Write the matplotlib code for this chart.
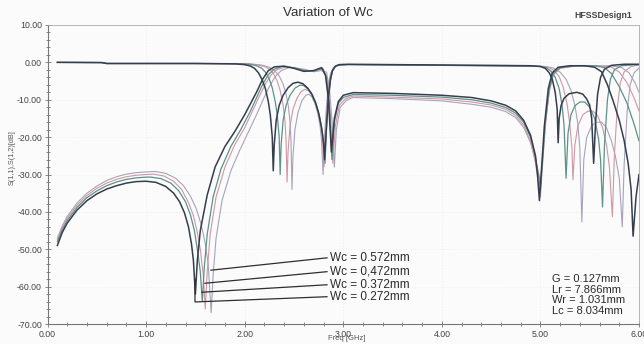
import matplotlib
matplotlib.use("Agg")
import matplotlib.pyplot as plt
from matplotlib.ticker import MultipleLocator, FormatStrFormatter

plt.rcParams['font.family'] = ['Liberation Sans', 'DejaVu Sans']

# Swept coupling-line width
wc_labels = ["Wc = 0.572mm", "Wc = 0,472mm", "Wc = 0.372mm", "Wc = 0.272mm"]
fixed_params = ["G = 0.127mm", "Lr = 7.866mm", "Wr = 1.031mm", "Lc = 8.034mm"]

# S(1,1) in dB, (freq GHz, dB) pairs
s11_272 = [(0.10, -49.0), (0.15, -45.5), (0.20, -43.0), (0.30, -39.5), (0.40, -37.0), (0.50, -35.2),
           (0.60, -33.9), (0.70, -33.0), (0.80, -32.3), (0.90, -31.9), (1.00, -31.8), (1.10, -32.1),
           (1.20, -33.2), (1.28, -35.0), (1.34, -37.3), (1.39, -40.3), (1.43, -44.0), (1.46, -48.5),
           (1.48, -53.0), (1.50, -62.0), (1.52, -53.0), (1.55, -45.0), (1.62, -35.5), (1.70, -28.0),
           (1.80, -22.5), (1.90, -18.5), (2.00, -14.0), (2.06, -11.0), (2.12, -8.0), (2.18, -4.6),
           (2.24, -2.2), (2.30, -1.2), (2.40, -1.0), (2.50, -1.6), (2.60, -2.4), (2.70, -2.2),
           (2.78, -1.4), (2.82, -3.5), (2.85, -10.0), (2.88, -24.0), (2.91, -15.0), (2.95, -10.5),
           (3.00, -8.8), (3.10, -8.1), (3.50, -8.3), (4.00, -8.8), (4.30, -9.4), (4.50, -10.3),
           (4.65, -11.5), (4.75, -13.0), (4.83, -15.5), (4.90, -19.5), (4.95, -25.0), (4.97, -30.0),
           (4.99, -37.0), (5.01, -29.0), (5.04, -17.0), (5.08, -7.0), (5.12, -2.8), (5.18, -1.3),
           (5.30, -0.9), (5.45, -0.9), (5.55, -1.3), (5.62, -2.5), (5.68, -6.0), (5.74, -10.5),
           (5.80, -15.5), (5.85, -21.0), (5.89, -27.0), (5.92, -34.0), (5.94, -46.5), (5.97, -36.0),
           (6.00, -30.0)]
s11_372 = [(0.10, -48.0), (0.15, -44.8), (0.20, -42.3), (0.30, -38.8), (0.40, -36.2), (0.50, -34.4),
           (0.60, -33.0), (0.70, -32.0), (0.80, -31.3), (0.90, -30.9), (1.00, -30.7), (1.05, -30.7),
           (1.15, -31.1), (1.25, -32.3), (1.33, -34.3), (1.40, -37.3), (1.45, -40.8), (1.49, -45.0),
           (1.52, -50.0), (1.55, -56.0), (1.57, -64.0), (1.59, -55.0), (1.62, -46.0), (1.68, -36.0),
           (1.76, -28.5), (1.86, -22.5), (1.96, -18.0), (2.05, -13.5), (2.12, -9.5), (2.18, -6.0),
           (2.24, -3.3), (2.30, -1.8), (2.38, -1.1), (2.50, -1.4), (2.60, -2.2), (2.70, -2.3),
           (2.79, -1.6), (2.83, -4.0), (2.86, -12.0), (2.885, -26.0), (2.91, -16.0), (2.95, -11.0),
           (3.00, -9.4), (3.10, -8.6), (3.50, -8.8), (4.00, -9.3), (4.30, -10.0), (4.50, -10.9),
           (4.65, -12.1), (4.75, -13.6), (4.83, -16.0), (4.90, -20.0), (4.95, -25.5), (4.98, -30.0),
           (5.00, -34.0), (5.02, -27.0), (5.05, -16.0), (5.09, -7.0), (5.13, -3.0), (5.20, -1.4),
           (5.35, -0.9), (5.55, -0.9), (5.65, -1.4), (5.72, -3.0), (5.80, -6.5), (5.88, -11.0),
           (5.95, -16.5), (6.00, -21.0)]
s11_472 = [(0.10, -47.5), (0.15, -44.2), (0.20, -41.7), (0.30, -38.2), (0.40, -35.6), (0.50, -33.7),
           (0.60, -32.3), (0.70, -31.3), (0.80, -30.6), (0.90, -30.2), (1.00, -30.0), (1.08, -29.9),
           (1.18, -30.4), (1.28, -31.8), (1.36, -34.0), (1.43, -37.5), (1.48, -41.0), (1.52, -45.5),
           (1.55, -50.0), (1.58, -57.0), (1.60, -66.0), (1.62, -56.0), (1.65, -46.0), (1.71, -36.0),
           (1.80, -28.0), (1.90, -22.0), (2.00, -17.5), (2.08, -13.0), (2.15, -9.0), (2.21, -5.8),
           (2.27, -3.3), (2.33, -1.9), (2.42, -1.2), (2.55, -1.6), (2.65, -2.4), (2.74, -2.0),
           (2.80, -1.8), (2.84, -5.0), (2.87, -14.0), (2.895, -27.0), (2.92, -17.0), (2.96, -11.5),
           (3.02, -9.8), (3.10, -9.0), (3.50, -9.3), (4.00, -9.8), (4.30, -10.6), (4.50, -11.4),
           (4.65, -12.6), (4.75, -14.2), (4.83, -16.8), (4.90, -21.0), (4.95, -27.0), (4.98, -32.0),
           (5.00, -36.0), (5.02, -28.0), (5.05, -17.0), (5.09, -7.5), (5.13, -3.2), (5.20, -1.5),
           (5.35, -1.0), (5.60, -0.9), (5.72, -1.3), (5.80, -2.6), (5.88, -5.5), (5.95, -9.5),
           (6.00, -13.0)]
s11_572 = [(0.10, -47.0), (0.15, -43.7), (0.20, -41.2), (0.30, -37.6), (0.40, -35.0), (0.50, -33.1),
           (0.60, -31.6), (0.70, -30.6), (0.80, -29.9), (0.90, -29.5), (1.00, -29.3), (1.10, -29.2),
           (1.20, -29.7), (1.30, -31.0), (1.38, -33.0), (1.45, -35.8), (1.51, -39.2), (1.56, -43.5),
           (1.60, -48.5), (1.63, -54.0), (1.66, -67.0), (1.68, -57.0), (1.71, -47.0), (1.77, -37.0),
           (1.86, -29.0), (1.95, -23.5), (2.04, -18.5), (2.12, -14.0), (2.19, -9.8), (2.25, -6.5),
           (2.31, -3.8), (2.37, -2.2), (2.45, -1.4), (2.60, -1.8), (2.70, -2.5), (2.78, -2.2),
           (2.83, -2.6), (2.86, -7.0), (2.89, -17.0), (2.91, -28.0), (2.93, -18.0), (2.97, -12.0),
           (3.03, -10.2), (3.10, -9.4), (3.50, -9.7), (4.00, -10.3), (4.30, -11.2), (4.50, -12.0),
           (4.65, -13.2), (4.75, -14.8), (4.83, -17.4), (4.90, -21.5), (4.95, -26.0), (4.98, -29.5),
           (5.00, -32.0), (5.02, -26.0), (5.05, -16.0), (5.09, -7.8), (5.13, -3.4), (5.20, -1.6),
           (5.35, -1.0), (5.70, -0.9), (5.82, -1.3), (5.90, -2.8), (5.96, -5.5), (6.00, -8.0)]

# S(1,2) in dB, (freq GHz, dB) pairs
s21_272 = [(0.10, 0.0), (0.55, -0.05), (0.60, -0.3), (1.50, -0.3), (1.90, -0.4), (2.00, -0.6),
           (2.06, -1.0), (2.10, -1.6), (2.14, -2.8), (2.18, -4.8), (2.21, -7.0), (2.24, -10.5),
           (2.26, -14.0), (2.28, -20.0), (2.29, -29.0), (2.30, -22.0), (2.32, -15.5), (2.35, -11.5),
           (2.39, -8.8), (2.44, -6.8), (2.49, -5.6), (2.54, -5.3), (2.59, -5.7), (2.64, -6.9),
           (2.68, -8.4), (2.72, -10.8), (2.75, -13.5), (2.78, -17.5), (2.80, -21.5), (2.81, -26.0),
           (2.83, -17.0), (2.85, -9.0), (2.87, -4.5), (2.89, -2.2), (2.92, -1.0), (2.96, -0.6),
           (3.05, -0.5), (3.50, -0.6), (4.00, -0.7), (4.50, -0.8), (4.90, -0.9), (5.00, -1.1),
           (5.05, -1.6), (5.09, -2.8), (5.12, -4.5), (5.15, -8.0), (5.17, -12.5), (5.18, -21.5),
           (5.19, -15.0), (5.21, -11.5), (5.24, -9.6), (5.29, -8.4), (5.37, -8.0), (5.43, -8.5),
           (5.47, -9.8), (5.50, -11.5), (5.52, -15.0), (5.54, -27.0), (5.56, -16.0), (5.58, -8.5),
           (5.61, -4.0), (5.65, -1.8), (5.72, -0.8), (5.85, -0.5), (6.00, -0.5)]
s21_372 = [(0.10, 0.0), (0.55, -0.05), (0.60, -0.3), (1.50, -0.3), (1.95, -0.35), (2.05, -0.5),
           (2.12, -0.9), (2.17, -1.5), (2.21, -2.6), (2.25, -4.5), (2.28, -6.8), (2.31, -10.5),
           (2.33, -14.0), (2.35, -20.0), (2.36, -30.0), (2.37, -22.0), (2.39, -15.5), (2.42, -11.5),
           (2.46, -8.8), (2.51, -6.9), (2.56, -6.1), (2.60, -6.2), (2.64, -7.1), (2.68, -8.6),
           (2.72, -11.0), (2.76, -14.5), (2.79, -19.0), (2.805, -23.0), (2.815, -27.0), (2.83, -18.0),
           (2.85, -10.0), (2.87, -5.0), (2.89, -2.4), (2.92, -1.1), (2.96, -0.7), (3.05, -0.6),
           (3.50, -0.7), (4.00, -0.8), (4.50, -0.9), (4.90, -1.0), (5.00, -1.1), (5.06, -1.4),
           (5.11, -2.4), (5.15, -4.0), (5.19, -7.0), (5.22, -11.5), (5.24, -17.0), (5.26, -31.0),
           (5.28, -19.0), (5.31, -14.0), (5.35, -11.6), (5.40, -10.6), (5.45, -10.6), (5.50, -12.0),
           (5.55, -15.0), (5.59, -20.5), (5.61, -26.0), (5.63, -38.7), (5.65, -22.0), (5.68, -10.0),
           (5.71, -4.5), (5.75, -2.0), (5.82, -0.9), (6.00, -0.6)]
s21_472 = [(0.10, 0.0), (0.55, -0.05), (0.60, -0.3), (1.50, -0.3), (2.00, -0.35), (2.12, -0.6),
           (2.20, -1.1), (2.25, -1.8), (2.29, -2.9), (2.33, -5.0), (2.36, -7.5), (2.39, -11.5),
           (2.41, -16.0), (2.42, -21.0), (2.43, -32.0), (2.44, -24.0), (2.46, -17.0), (2.49, -12.5),
           (2.53, -9.6), (2.57, -7.9), (2.61, -7.2), (2.65, -7.6), (2.69, -9.0), (2.72, -11.0),
           (2.75, -13.8), (2.775, -17.5), (2.79, -21.0), (2.805, -28.0), (2.82, -19.0), (2.84, -11.0),
           (2.86, -5.5), (2.88, -2.8), (2.91, -1.3), (2.95, -0.8), (3.05, -0.6), (4.00, -0.8),
           (4.90, -1.0), (5.00, -1.0), (5.08, -1.3), (5.14, -2.2), (5.19, -3.8), (5.23, -6.5),
           (5.27, -11.0), (5.30, -17.0), (5.32, -23.0), (5.33, -31.4), (5.35, -22.0), (5.38, -17.0),
           (5.43, -14.0), (5.48, -13.1), (5.53, -13.0), (5.58, -14.2), (5.63, -17.5), (5.67, -22.0),
           (5.70, -28.0), (5.73, -41.3), (5.75, -25.0), (5.78, -12.0), (5.81, -5.5), (5.85, -2.5),
           (5.92, -1.1), (6.00, -0.7)]
s21_572 = [(0.10, 0.0), (0.55, -0.05), (0.60, -0.3), (1.50, -0.3), (2.05, -0.4), (2.17, -0.7),
           (2.25, -1.3), (2.30, -2.1), (2.35, -3.6), (2.39, -5.8), (2.42, -8.5), (2.445, -12.0),
           (2.46, -16.0), (2.47, -21.0), (2.48, -34.0), (2.49, -25.0), (2.51, -18.0), (2.54, -13.5),
           (2.58, -10.3), (2.62, -8.8), (2.65, -8.5), (2.68, -9.2), (2.71, -10.8), (2.74, -13.5),
           (2.765, -17.0), (2.78, -21.0), (2.795, -30.0), (2.81, -20.0), (2.83, -11.5), (2.85, -6.0),
           (2.87, -3.0), (2.90, -1.4), (2.94, -0.8), (3.05, -0.6), (4.00, -0.8), (4.90, -1.0),
           (5.05, -1.1), (5.13, -1.5), (5.20, -2.6), (5.26, -4.5), (5.31, -7.5), (5.35, -11.5),
           (5.38, -16.5), (5.40, -23.0), (5.42, -42.7), (5.44, -26.0), (5.47, -20.0), (5.52, -17.0),
           (5.57, -16.0), (5.62, -16.0), (5.67, -17.5), (5.72, -21.0), (5.76, -25.0), (5.80, -31.0),
           (5.83, -44.0), (5.85, -27.0), (5.88, -13.0), (5.91, -6.0), (5.95, -2.8), (6.00, -1.5)]

# Leader lines: point on the curve near each reflection zero, then the label anchor
leader_start_f = [1.658, 1.597, 1.567, 1.496]
leader_start_db = [-55.6, -59.1, -61.5, -64.1]
leader_dip_db = [-55.6, -59.1, -61.5, -58.0]
label_f = [2.835, 2.835, 2.835, 2.835]
label_db = [-52.3, -56.0, -59.5, -62.7]

traces = [
    (s11_572, s21_572, '#a7a3bb', 0.8),
    (s11_472, s21_472, '#cf97a4', 0.8),
    (s11_372, s21_372, '#5d9189', 0.9),
    (s11_272, s21_272, '#363d4c', 1.1),
]

W, H = 644, 344
fig = plt.figure(figsize=(W / 100, H / 100), dpi=100)
fig.patch.set_facecolor('#fbfbfb')
ax = fig.add_axes([47.5 / W, 1 - 324 / H, (639 - 47.5) / W, (324 - 25) / H])
ax.set_facecolor('#fbfbfb')

for s11, s21, color, lw in traces:
    for curve in (s11, s21):
        f = [p[0] for p in curve]
        d = [p[1] for p in curve]
        ax.plot(f, d, color=color, lw=lw, solid_joinstyle='round', zorder=3 if lw > 1 else 2)

for sf, sd, dd, lf, ld, txt in zip(leader_start_f, leader_start_db, leader_dip_db,
                                   label_f, label_db, wc_labels):
    ax.plot([sf, sf, lf], [dd, sd, ld], color='#2e2e2e', lw=0.9, zorder=4)
    ax.text(lf + 0.03, ld, txt, fontsize=8.5, color='#2a2a2a', va='center', ha='left', zorder=5)

param_db = [-57.9, -60.8, -63.7, -66.6]
for txt, yv in zip(fixed_params, param_db):
    ax.text(5.12, yv, txt, fontsize=8.0, color='#2a2a2a', va='center', ha='left')

ax.set_xlim(0, 6)
ax.set_ylim(-70, 10)
ax.xaxis.set_major_locator(MultipleLocator(1))
ax.xaxis.set_minor_locator(MultipleLocator(0.2))
ax.yaxis.set_major_locator(MultipleLocator(10))
ax.yaxis.set_minor_locator(MultipleLocator(2))
ax.xaxis.set_major_formatter(FormatStrFormatter('%.2f'))
ax.yaxis.set_major_formatter(FormatStrFormatter('%.2f'))
ax.tick_params(which='both', direction='inout', colors='#777777', labelcolor='#444444',
               labelsize=6.3, width=0.6)
ax.tick_params(which='major', length=4, pad=2)
ax.tick_params(which='minor', length=2.5)
ax.grid(True, which='major', color='#e4e4e4', lw=0.5, ls=(0, (1, 3)))

for side in ('left', 'bottom'):
    ax.spines[side].set_color('#777777')
    ax.spines[side].set_linewidth(0.8)
for side in ('top', 'right'):
    ax.spines[side].set_color('#b0a8a8')
    ax.spines[side].set_linewidth(0.6)

fig.text(328 / W, 1 - 13 / H, 'Variation of Wc', fontsize=9.6, color='#333333',
         ha='center', va='center')
fig.text(603 / W, 1 - 16 / H, 'HFSSDesign1', fontsize=6.3, fontweight='bold',
         color='#444444', ha='center', va='center')
fig.text(347 / W, 1 - 339 / H, 'Freq [GHz]', fontsize=5.5, color='#555555',
         ha='center', va='center')
fig.text(12 / W, 1 - 158 / H, 'S(1,1),S(1,2)[dB]', fontsize=5.2, color='#555555',
         rotation=90, ha='center', va='center')

fig.savefig('out.png', dpi=100, facecolor=fig.get_facecolor())
